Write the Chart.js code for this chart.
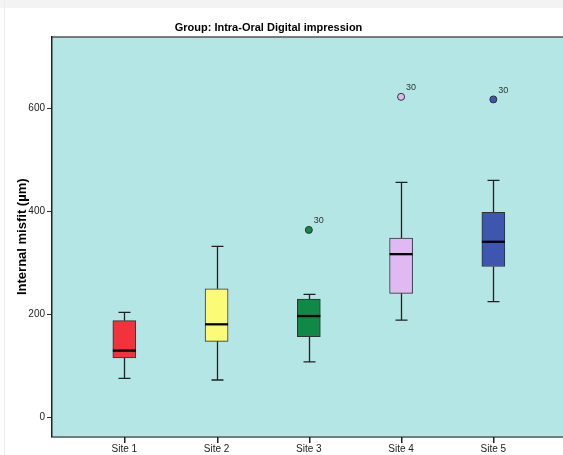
<!DOCTYPE html>
<html>
<head>
<meta charset="utf-8">
<script src="https://cdn.jsdelivr.net/npm/chart.js@4"></script>
<style>
  html, body { margin: 0; padding: 0; background: #fff; overflow: hidden; }
  #wrap { position: relative; width: 563px; height: 455px; }
  #strip { position: absolute; left: 0; top: 0; width: 563px; height: 8px; background: #f3f3f3; }
  #edge { position: absolute; left: 4px; top: 0; width: 1px; height: 455px; background: #ececec; }
  canvas { position: absolute; left: 0; top: 0; }
</style>
</head>
<body>
<div id="wrap">
  <canvas id="myChart" width="563" height="455"></canvas>
  <div id="strip"></div>
  <div id="edge"></div>
</div>
<script>
// Categories and box plot values (µm)
const categories = ['Site 1', 'Site 2', 'Site 3', 'Site 4', 'Site 5'];
const mins = [76, 73, 108, 189, 225];
const q1s = [116, 148, 157, 241, 293];
const medians = [130, 181, 197, 317, 341];
const q3s = [188, 250, 230, 348, 398];
const maxs = [204, 332, 239, 456, 460];

// Outliers: site number, value, case label
const outlierSites = [3, 4, 5];
const outlierValues = [364, 622, 617];
const outlierLabels = ['30', '30', '30'];

// Y axis tick labels
const yTicks = [0, 200, 400, 600];

const titleText = 'Group: Intra-Oral Digital impression';
const boxColors = ['#f2333c', '#fbfb78', '#0e8a46', '#e0b9f2', '#3d57ae'];
const fontFamily = '"Liberation Sans", Arial, sans-serif';

// Draw plot background, top border and chart title
const backgroundPlugin = {
  id: 'plotBackground',
  beforeDraw(chart) {
    const { ctx, chartArea } = chart;
    ctx.save();
    ctx.fillStyle = '#b4e6e6';
    ctx.fillRect(chartArea.left, chartArea.top, chartArea.right - chartArea.left, chartArea.bottom - chartArea.top);
    ctx.strokeStyle = '#555';
    ctx.lineWidth = 1.5;
    ctx.beginPath();
    ctx.moveTo(chartArea.left, chartArea.top);
    ctx.lineTo(chartArea.right, chartArea.top);
    ctx.stroke();
    // title sits a bit left of the canvas centre in the original
    ctx.fillStyle = '#000';
    ctx.font = 'bold 11px ' + fontFamily;
    ctx.textAlign = 'center';
    ctx.textBaseline = 'middle';
    ctx.fillText(titleText, 268.5, 27.5);
    ctx.restore();
  },
  afterDraw(chart) {
    // tick marks under the x axis, one per site
    const { ctx, chartArea } = chart;
    const xs = chart.scales.x;
    ctx.save();
    ctx.fillStyle = '#222';
    for (let i = 0; i < categories.length; i++) {
      const x = Math.round(xs.getPixelForValue(i + 1));
      ctx.fillRect(x, Math.round(chartArea.bottom), 1.5, 6);
    }
    ctx.restore();
  },
};

// Draw whiskers, medians and outlier case labels
const boxPlugin = {
  id: 'boxParts',
  beforeDatasetsDraw(chart) {
    const { ctx } = chart;
    const xs = chart.scales.x;
    const ys = chart.scales.y;
    ctx.save();
    ctx.strokeStyle = '#222';
    ctx.lineWidth = 1.3;
    for (let i = 0; i < categories.length; i++) {
      const x = Math.round(xs.getPixelForValue(i + 1)) + 0.5;
      const yMin = ys.getPixelForValue(mins[i]);
      const yMax = ys.getPixelForValue(maxs[i]);
      const yQ1 = ys.getPixelForValue(q1s[i]);
      const yQ3 = ys.getPixelForValue(q3s[i]);
      ctx.beginPath();
      ctx.moveTo(x, yQ3);
      ctx.lineTo(x, yMax);
      ctx.moveTo(x - 6, yMax);
      ctx.lineTo(x + 6, yMax);
      ctx.moveTo(x, yQ1);
      ctx.lineTo(x, yMin);
      ctx.moveTo(x - 6, yMin);
      ctx.lineTo(x + 6, yMin);
      ctx.stroke();
    }
    ctx.restore();
  },
  afterDatasetsDraw(chart) {
    const { ctx } = chart;
    const xs = chart.scales.x;
    const ys = chart.scales.y;
    ctx.save();
    ctx.strokeStyle = '#000';
    ctx.lineWidth = 2.3;
    for (let i = 0; i < categories.length; i++) {
      const x = xs.getPixelForValue(i + 1);
      const y = ys.getPixelForValue(medians[i]);
      ctx.beginPath();
      ctx.moveTo(x - 11.5, y);
      ctx.lineTo(x + 11.5, y);
      ctx.stroke();
    }
    ctx.fillStyle = '#333';
    ctx.font = '9px ' + fontFamily;
    ctx.textBaseline = 'middle';
    for (let i = 0; i < outlierSites.length; i++) {
      const x = xs.getPixelForValue(outlierSites[i]);
      const y = ys.getPixelForValue(outlierValues[i]);
      ctx.fillText(outlierLabels[i], x + 5, y - 9);
    }
    ctx.restore();
  },
};

const ctx = document.getElementById('myChart').getContext('2d');

const myChart = new Chart(ctx, {
  type: 'bar',
  data: {
    datasets: [
      {
        type: 'bar',
        data: categories.map((c, i) => ({ x: i + 1, y: [q1s[i], q3s[i]] })),
        backgroundColor: boxColors,
        borderColor: '#333',
        borderWidth: 1,
        borderSkipped: false,
        barThickness: 23,
        order: 2,
      },
      {
        type: 'scatter',
        data: outlierSites.map((s, i) => ({ x: s, y: outlierValues[i] })),
        pointRadius: 3.5,
        pointBackgroundColor: outlierSites.map((s) => boxColors[s - 1]),
        pointBorderColor: '#333',
        pointBorderWidth: 1,
        order: 1,
      },
    ],
  },
  options: {
    responsive: false,
    animation: false,
    layout: { autoPadding: false, padding: { top: 37, left: 0, right: 0, bottom: 0 } },
    plugins: {
      legend: { display: false },
      tooltip: { enabled: false },
      title: { display: false },
    },
    scales: {
      x: {
        type: 'linear',
        min: 0.216,
        max: 5.755,
        offset: false,
        afterBuildTicks(scale) {
          scale.ticks = categories.map((c, i) => ({ value: i + 1 }));
        },
        afterFit(scale) {
          scale.height = 18.5;
          scale.paddingLeft = 0;
          scale.paddingRight = 0;
        },
        ticks: {
          callback: (v) => categories[v - 1],
          color: '#222',
          font: { family: fontFamily, size: 10 },
          padding: 7,
          maxRotation: 0,
          autoSkip: false,
        },
        grid: { display: true, offset: false, drawOnChartArea: false, drawTicks: false },
        border: { color: '#6f7f7f', width: 2 },
      },
      y: {
        min: -36.5,
        max: 738,
        afterBuildTicks(scale) {
          scale.ticks = yTicks.map((v) => ({ value: v }));
        },
        afterFit(scale) {
          scale.width = 52;
          scale.paddingTop = 0;
          scale.paddingBottom = 0;
        },
        ticks: {
          color: '#222',
          font: { family: fontFamily, size: 10 },
          padding: 2,
        },
        grid: { display: true, drawOnChartArea: false, tickLength: 5, color: '#333' },
        border: { color: '#222', width: 1.5 },
        title: {
          display: true,
          text: 'Internal misfit (µm)',
          color: '#000',
          font: { family: fontFamily, size: 13, weight: 'bold' },
          padding: { top: 15, bottom: 0 },
        },
      },
    },
  },
  plugins: [backgroundPlugin, boxPlugin],
});
</script>
</body>
</html>
